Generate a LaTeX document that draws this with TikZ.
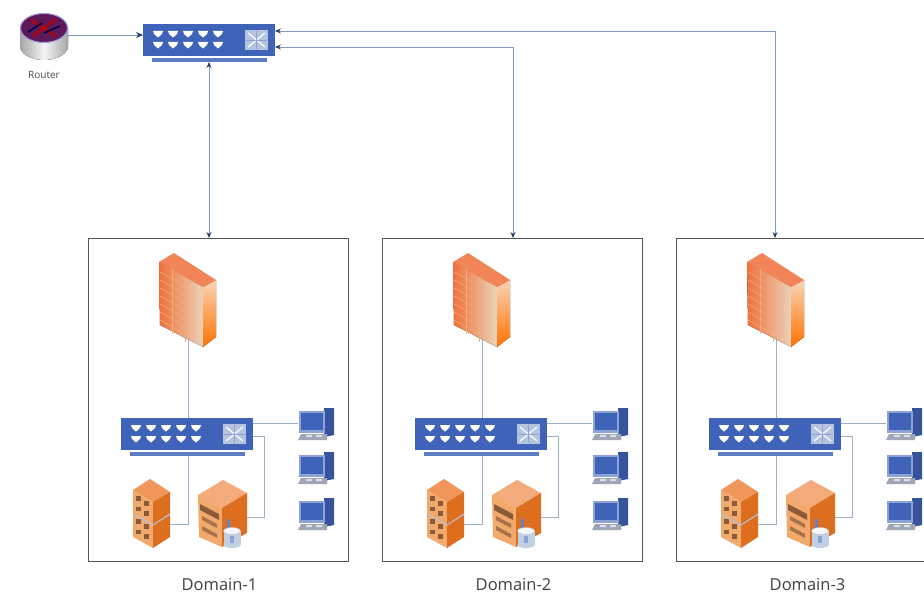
\documentclass[tikz,border=0pt]{standalone}
\usepackage{fontspec}
\setmainfont{Open Sans}
\usetikzlibrary{arrows.meta,calc,shapes.geometric}
\definecolor{swblue}{HTML}{3F63B8}
\definecolor{swbar}{HTML}{5C7CC4}
\definecolor{swpanel}{HTML}{B4C4DE}
\definecolor{linkblue}{HTML}{7F9BC8}
\definecolor{lanline}{HTML}{9DB0CA}
\definecolor{boxline}{HTML}{555555}
\definecolor{orA}{HTML}{F2A96C}
\definecolor{orB}{HTML}{DD6E1E}
\definecolor{orC}{HTML}{F0965A}
\definecolor{orD}{HTML}{8A5A3A}
\definecolor{brickL}{HTML}{F0703A}
\definecolor{brickR}{HTML}{EAD2B8}
\tikzset{
  x=1pt,y=-1pt,
  uplink/.style={draw=linkblue,line width=0.9pt},
  biarrow/.style={uplink,{Stealth[length=6pt,width=5pt,color=swblue!60!black]}-{Stealth[length=6pt,width=5pt,color=swblue!60!black]}},
  onearrow/.style={uplink,-{Stealth[length=7pt,width=6pt,color=swblue!60!black]}},
  lan/.style={draw=lanline,line width=1pt},
  domainbox/.style={draw=boxline,line width=0.9pt},
  caption/.style={font=\fontsize{16.5}{18}\selectfont,text=black!75,inner sep=0pt},
  switchicon/.pic={
    \node[name=-body,fill=swblue,draw=none,inner sep=0,outer sep=0,minimum width=132pt,minimum height=32pt] at (66,16) {};
    \fill[swbar] (9,34) rectangle (124,38);
    \foreach \cx in {15,30,45,60,75}{\foreach \cy in {10,21}{
      \fill[white] (\cx-5,\cy-3) -- (\cx+5,\cy-3) -- (\cx+4,\cy) -- (\cx,\cy+3.5) -- (\cx-4,\cy) -- cycle;}}
    \fill[swpanel] (102,6) rectangle (125,26);
    \draw[white,line width=1.2pt] (105,9) -- (122,23) (122,9) -- (105,23);
    \draw[swblue!60,line width=0.5pt] (113.5,7) -- (113.5,25) (103,16) -- (124,16);
    \coordinate (-top) at (66,38);
    \coordinate (-r1) at (132,5);
    \coordinate (-r2) at (132,18);
    \coordinate (-r3) at (132,7);
    \coordinate (-r4) at (132,23);
  },
  firewallicon/.pic={
    \fill[left color=brickL,right color=brickR] (0,8) -- (44,33) -- (44,93) -- (1,71) -- cycle;
    \fill[bottom color=orange!90!red,top color=orA!50!white] (44,33) -- (57,26) -- (57,83) -- (44,93) -- cycle;
    \fill[brickL!85!white] (0,8) -- (15,-1) -- (57,26) -- (44,33) -- cycle;
    \foreach \k in {0,1,...,6}{
      \draw[orC!80!white,line width=0.6pt] (1,{18+\k*8}) -- (26,{32+\k*8});}
    \draw[orC!80!white,line width=0.6pt] (13,15) -- (13,80) (26,24) -- (26,88);
    \coordinate (-base) at (29,86);
  },
  stackicon/.pic={
    \foreach \oy in {23,0}{
      \fill[orC] (0,11+\oy) -- (17,0+\oy) -- (37,13+\oy) -- (20,23+\oy) -- cycle;
      \fill[orA] (0,11+\oy) -- (20,23+\oy) -- (20,46+\oy) -- (0,35+\oy) -- cycle;
      \fill[orB] (20,23+\oy) -- (37,13+\oy) -- (37,35+\oy) -- (20,46+\oy) -- cycle;
      \fill[orD] (3,17+\oy) rectangle (8,22+\oy);
      \fill[orD] (11,22+\oy) rectangle (16,27+\oy);
      \fill[orD] (3,28+\oy) rectangle (8,32+\oy);
      \fill[orD] (11,32+\oy) rectangle (16,37+\oy);
    }
    \draw[swpanel,line width=1pt] (0,35) -- (20,46) -- (37,35);
    \coordinate (-r) at (37,45);
  },
  servericon/.pic={
    \fill[orC!80!white] (1,15) -- (26,0) -- (50,13) -- (25,28) -- cycle;
    \fill[orA] (1,15) -- (25,28) -- (25,67) -- (2,57) -- cycle;
    \fill[orB] (25,28) -- (50,13) -- (50,53) -- (25,67) -- cycle;
    \fill[orD] (3,24) -- (22,34) -- (22,40) -- (3,30) -- cycle;
    \fill[orD!70!orA] (5,36) -- (20,44) -- (20,48) -- (5,40) -- cycle;
    \fill[orD!70!orA] (5,46) -- (20,54) -- (20,58) -- (5,50) -- cycle;
    \fill[swblue!80] (30,39) rectangle (33,49);
    \fill[swpanel!80!white] (26.5,51) rectangle (43.5,65);
    \fill[swpanel!80!white] (35,65) ellipse (8.5 and 3);
    \fill[white!85!swpanel,draw=swpanel,line width=0.4pt] (35,51) ellipse (8.5 and 3.5);
    \fill[swblue!60] (33,56) rectangle (37,63);
    \coordinate (-r) at (50,37);
  },
  monitoricon/.pic={
    \fill[swblue!85!black] (26,1) -- (36,1) -- (36,28) -- (26,30) -- cycle;
    \fill[swbar!70!white] (1,4) -- (27,4) -- (27,26) -- (1,26) -- cycle;
    \fill[swblue] (3,6) rectangle (25,23);
    \fill[swbar!45!black!45] (3,27) -- (29,27) -- (29,33) -- (0,33) -- cycle;
    \fill[white!80!swblue] (8,28) rectangle (14,30) (18,28) rectangle (24,30);
    \coordinate (-w) at (0,16);
  }
}
\begin{document}
\begin{tikzpicture}
\useasboundingbox (0,0) rectangle (924,594);
\clip (0,0) rectangle (924,594);
\fill[white] (0,0) rectangle (924,594);
% router
\fill[left color=black!35,right color=black!35,middle color=black!4] (20,28) -- (20,46) arc[x radius=24,y radius=14,start angle=180,end angle=0] -- (68,28) -- cycle;
\fill[black!60!blue!70!red!90,draw=black!35!blue!40!white,line width=1pt] (44,28) ellipse (23.5 and 14.5);
\draw[red!75!black,line width=2pt] (31,20) -- (56,36) (56,19) -- (33,36);
\draw[black!70!blue,line width=1.6pt] (28,32) -- (42,23) (44,33) -- (60,26);
\node[name=router,ellipse,inner sep=0,minimum width=48pt,minimum height=46pt] at (44,35) {};
\node[name=routerlabel,font=\fontsize{10}{11}\selectfont,text=black!70] at (44,75) {Router};
% core switch
\pic (core) at (143,24) {switchicon};
% domains
\foreach \d/\ox in {1/0,2/294,3/588}{
  \begin{scope}[shift={(\ox,0)}]
    \node[name=dom\d,domainbox,inner sep=0,outer sep=0,minimum width=260pt,minimum height=323pt] at (218,399.5) {};
    \node[name=cap\d,caption] at (219.5,584.5) {Domain-\d};
    \pic (fw\d) at (159,254) {firewallicon};
    \pic (sw\d) at (121,418) {switchicon};
    \pic (st\d) at (133,479) {stackicon};
    \pic (sv\d) at (197,480) {servericon};
    \pic (ma\d) at (298,407) {monitoricon};
    \pic (mb\d) at (298,451) {monitoricon};
    \pic (mc\d) at (298,497) {monitoricon};
    \draw[lan] (fw\d-base) -- (sw\d-body.north -| fw\d-base);
    \draw[lan] (sw\d-top -| fw\d-base) |- (st\d-r);
    \draw[lan] (sw\d-r1) -- (ma\d-w);
    \draw[lan] (sw\d-r2) -| ($(sw\d-r2)+(11,0)$) |- (sv\d-r);
  \end{scope}
}
% uplinks
\draw[onearrow] (router.east) -- (core-body.west |- router.east);
\coordinate (d1top) at (dom1.north -| core-top);
\coordinate (d2top) at ($(dom2.north)+(1,0)$);
\coordinate (d3top) at ($(dom3.north)+(-31,0)$);
\draw[biarrow] (core-top) -- (d1top);
\draw[biarrow] (core-r4) -| (d2top);
\draw[biarrow] (core-r3) -| (d3top);
\end{tikzpicture}
\end{document}
